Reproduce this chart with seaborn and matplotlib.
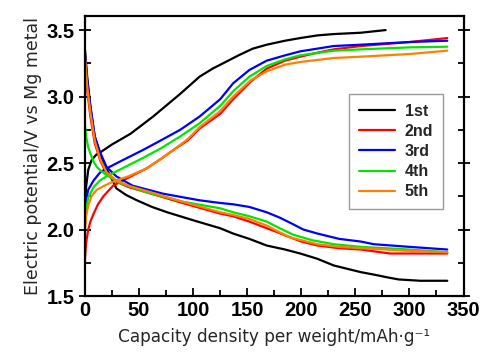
import numpy as np
import pandas as pd
import matplotlib
matplotlib.use("Agg")
import matplotlib.pyplot as plt
import seaborn as sns
from matplotlib.ticker import MultipleLocator

# cycles and colours
cycles = ["1st", "2nd", "3rd", "4th", "5th"]
colors = ["#000000", "#ff0000", "#0000ff", "#00e600", "#ff8000"]

# charge curves (rising)
chg_x = {
    "1st": [0, 1, 3, 6, 10, 14, 25, 42, 63, 88, 106, 118, 130, 142, 155, 168, 185, 199, 215, 230, 255, 278],
    "2nd": [0, 1, 3, 5, 8, 12, 17, 26, 40, 57, 70, 82, 95, 106, 125, 137, 153, 168, 185, 199, 215, 230, 255, 300, 335],
    "3rd": [0, 1, 3, 8, 14, 20, 32, 54, 70, 88, 106, 125, 137, 152, 168, 185, 199, 230, 255, 300, 335],
    "4th": [0, 1, 3, 8, 14, 20, 32, 54, 70, 88, 106, 125, 137, 152, 168, 185, 199, 230, 255, 300, 335],
    "5th": [0, 1, 3, 6, 11, 18, 26, 40, 57, 70, 82, 95, 106, 125, 137, 153, 168, 185, 199, 230, 255, 300, 335],
}
chg_y = {
    "1st": [2.15, 2.32, 2.45, 2.52, 2.56, 2.58, 2.64, 2.72, 2.85, 3.02, 3.15, 3.21, 3.26, 3.31, 3.36, 3.39, 3.42, 3.44, 3.46, 3.47, 3.48, 3.50],
    "2nd": [1.78, 1.90, 2.00, 2.06, 2.12, 2.19, 2.25, 2.33, 2.39, 2.46, 2.53, 2.60, 2.67, 2.76, 2.87, 2.98, 3.11, 3.21, 3.27, 3.30, 3.33, 3.355, 3.38, 3.41, 3.44],
    "3rd": [2.12, 2.22, 2.30, 2.37, 2.43, 2.46, 2.51, 2.60, 2.67, 2.75, 2.85, 2.98, 3.10, 3.20, 3.27, 3.31, 3.34, 3.38, 3.39, 3.41, 3.42],
    "4th": [2.05, 2.15, 2.24, 2.32, 2.37, 2.40, 2.45, 2.54, 2.61, 2.70, 2.80, 2.93, 3.04, 3.15, 3.23, 3.28, 3.31, 3.345, 3.355, 3.37, 3.375],
    "5th": [2.00, 2.10, 2.18, 2.25, 2.30, 2.33, 2.36, 2.40, 2.46, 2.53, 2.60, 2.68, 2.77, 2.89, 3.00, 3.12, 3.19, 3.24, 3.26, 3.29, 3.30, 3.32, 3.345],
}

# discharge curves (falling)
dis_x = {
    "1st": [0, 2, 5, 9, 14, 19, 23, 29, 38, 48, 62, 76, 100, 125, 137, 152, 168, 185, 199, 215, 230, 255, 268, 280, 290, 310, 335],
    "2nd": [0, 2, 5, 9, 14, 20, 29, 40, 57, 90, 125, 137, 152, 168, 178, 187, 200, 215, 235, 255, 282, 335],
    "3rd": [0, 2, 5, 9, 14, 20, 29, 44, 72, 106, 125, 137, 152, 168, 180, 190, 202, 215, 235, 255, 267, 300, 335],
    "4th": [0, 1, 3, 5, 8, 11, 15, 20, 32, 57, 90, 125, 137, 152, 168, 180, 193, 210, 230, 255, 300, 335],
    "5th": [0, 2, 5, 9, 14, 20, 29, 40, 57, 90, 125, 137, 152, 168, 180, 190, 200, 215, 235, 255, 300, 335],
}
dis_y = {
    "1st": [3.35, 3.15, 2.92, 2.70, 2.57, 2.47, 2.41, 2.31, 2.26, 2.22, 2.17, 2.13, 2.07, 2.01, 1.97, 1.93, 1.88, 1.85, 1.82, 1.78, 1.73, 1.68, 1.66, 1.64, 1.625, 1.615, 1.615],
    "2nd": [3.25, 3.05, 2.85, 2.65, 2.52, 2.42, 2.36, 2.32, 2.28, 2.20, 2.12, 2.10, 2.06, 2.01, 1.98, 1.95, 1.91, 1.88, 1.86, 1.85, 1.82, 1.82],
    "3rd": [3.32, 3.12, 2.93, 2.70, 2.58, 2.47, 2.40, 2.33, 2.27, 2.22, 2.20, 2.19, 2.17, 2.13, 2.09, 2.05, 2.00, 1.97, 1.93, 1.91, 1.89, 1.87, 1.85],
    "4th": [2.78, 2.70, 2.62, 2.57, 2.51, 2.47, 2.44, 2.41, 2.35, 2.28, 2.21, 2.16, 2.13, 2.10, 2.06, 2.01, 1.96, 1.92, 1.89, 1.87, 1.85, 1.83],
    "5th": [3.30, 3.08, 2.88, 2.67, 2.53, 2.43, 2.37, 2.33, 2.29, 2.21, 2.13, 2.11, 2.08, 2.03, 1.98, 1.94, 1.92, 1.89, 1.87, 1.86, 1.84, 1.83],
}

rows = []
for c in cycles:
    for xv, yv in zip(chg_x[c], chg_y[c]):
        rows.append((c, "charge", xv, yv))
    for xv, yv in zip(dis_x[c], dis_y[c]):
        rows.append((c, "discharge", xv, yv))
df = pd.DataFrame(rows, columns=["cycle", "branch", "x", "y"])

sns.set_theme(style="ticks")
plt.rcParams["font.family"] = ["Liberation Sans", "DejaVu Sans"]

fig = plt.figure(figsize=(5.0, 3.58), dpi=100)
ax = fig.add_axes([0.17, 0.173, 0.757, 0.782])

sns.lineplot(data=df, x="x", y="y", hue="cycle", units="branch", estimator=None,
             sort=False, palette=dict(zip(cycles, colors)), linewidth=1.6, ax=ax)

ax.set_xlim(0, 350)
ax.set_ylim(1.5, 3.605)
ax.xaxis.set_major_locator(MultipleLocator(50))
ax.xaxis.set_minor_locator(MultipleLocator(25))
ax.yaxis.set_major_locator(MultipleLocator(0.5))
ax.yaxis.set_minor_locator(MultipleLocator(0.25))
ax.tick_params(axis="both", which="both", direction="in", right=True, top=False,
               width=1.3, labelsize=14.5, colors="black")
ax.tick_params(axis="both", which="major", length=6)
ax.tick_params(axis="both", which="minor", length=4)
ax.tick_params(axis="y", which="major", direction="inout", length=8)
for lab in ax.get_xticklabels() + ax.get_yticklabels():
    lab.set_fontweight("bold")
for sp in ax.spines.values():
    sp.set_linewidth(1.6)
    sp.set_color("black")

ax.set_xlabel("Capacity density per weight/mAh\u00b7g\u207b\u00b9", fontsize=12.2,
              family="DejaVu Sans", labelpad=6)
ax.set_ylabel("Electric potential/V vs Mg metal", fontsize=12.5,
              family="DejaVu Sans", labelpad=3)

handles, labels = ax.get_legend_handles_labels()
leg = ax.legend(handles, labels, loc="upper right", bbox_to_anchor=(0.946, 0.721),
                borderaxespad=0, frameon=True, fancybox=False, edgecolor="#808080",
                prop={"weight": "bold", "size": 11.5}, handlelength=2.3,
                labelspacing=0.32, borderpad=0.6, handletextpad=0.6)
leg.get_frame().set_linewidth(1.0)
for ln in leg.get_lines():
    ln.set_linewidth(1.6)

fig.savefig("out.png", dpi=100)
